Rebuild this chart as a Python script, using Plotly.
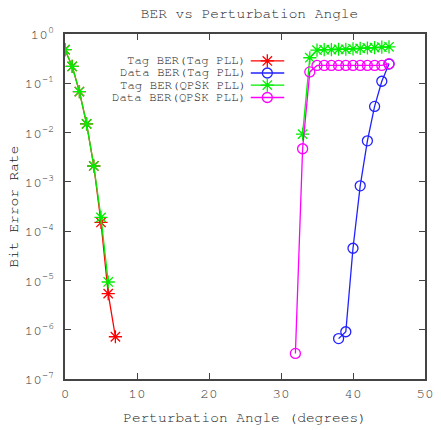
import plotly.graph_objects as go

# Data
tag_tagpll_x = [0, 1, 2, 3, 4, 5, 6, 7]
tag_tagpll_y = [0.48, 0.22, 0.068, 0.015, 0.0021, 1.5e-4, 5.4e-6, 7.2e-7]

data_tagpll_x = [38, 39, 40, 41, 42, 43, 44, 45]
data_tagpll_y = [6.6e-7, 9.1e-7, 4.5e-5, 8.3e-4, 0.0068, 0.034, 0.11, 0.245]

tag_qpsk_x = [0, 1, 2, 3, 4, 5, 6, None, 33, 34, 35, 36, 37, 38, 39, 40, 41, 42, 43, 44, 45]
tag_qpsk_y = [0.48, 0.22, 0.068, 0.015, 0.0021, 1.9e-4, 9.3e-6, None,
              0.0093, 0.33, 0.47, 0.48, 0.48, 0.49, 0.49, 0.50, 0.51, 0.52, 0.53, 0.54, 0.55]

data_qpsk_x = [32, 33, 34, 35, 36, 37, 38, 39, 40, 41, 42, 43, 44, 45]
data_qpsk_y = [3.3e-7, 0.0047, 0.17, 0.23, 0.23, 0.23, 0.23, 0.23, 0.23, 0.23, 0.23, 0.23, 0.23, 0.25]

names = ["Tag BER(Tag PLL)", "Data BER(Tag PLL)", "Tag BER(QPSK PLL)", "Data BER(QPSK PLL)"]
colors = ["#ff0000", "#2222ff", "#00ee00", "#ff00ff"]
symbols = ["asterisk-open", "circle-open", "asterisk-open", "circle-open"]
sizes = [11, 10, 11, 10]

ytick_vals = [1e-7, 1e-6, 1e-5, 1e-4, 1e-3, 1e-2, 1e-1, 1]
ytick_text = ["10<sup>-7</sup>", "10<sup>-6</sup>", "10<sup>-5</sup>", "10<sup>-4</sup>",
              "10<sup>-3</sup>", "10<sup>-2</sup>", "10<sup>-1</sup>", "10<sup>0</sup>"]
xtick_vals = [0, 10, 20, 30, 40, 50]

FONT = "FreeMono, Courier New, monospace"
AXC = "#444444"
TXC = "#3a3a3a"
TTC = "#222222"

series = [(tag_tagpll_x, tag_tagpll_y), (data_tagpll_x, data_tagpll_y),
          (tag_qpsk_x, tag_qpsk_y), (data_qpsk_x, data_qpsk_y)]

fig = go.Figure()
for i, (xs, ys) in enumerate(series):
    fig.add_trace(go.Scatter(
        x=xs, y=ys, mode="lines+markers", name=names[i], showlegend=False,
        line=dict(color=colors[i], width=1.3),
        marker=dict(symbol=symbols[i], size=sizes[i], color=colors[i],
                    line=dict(color=colors[i], width=1.3)),
        connectgaps=False,
    ))

# manual gnuplot-style legend (samples on an overlay axis spanning the plot area)
leg_rows = [0.922, 0.887, 0.852, 0.816]
for i in range(4):
    fig.add_trace(go.Scatter(
        x=[0.516, 0.609], y=[leg_rows[i], leg_rows[i]], mode="lines",
        line=dict(color=colors[i], width=1.3), xaxis="x2", yaxis="y2",
        showlegend=False, hoverinfo="skip"))
    fig.add_trace(go.Scatter(
        x=[0.562], y=[leg_rows[i]], mode="markers",
        marker=dict(symbol=symbols[i], size=sizes[i], color=colors[i],
                    line=dict(color=colors[i], width=1.3)),
        xaxis="x2", yaxis="y2", showlegend=False, hoverinfo="skip"))
    fig.add_annotation(x=0.507, y=leg_rows[i], xref="x2", yref="y2",
                       text=names[i], showarrow=False, xanchor="right", yanchor="middle",
                       font=dict(family=FONT, size=12.4, color=TTC))

fig.update_layout(
    width=441, height=430,
    margin=dict(l=65, r=7, t=34, b=48),
    paper_bgcolor="white", plot_bgcolor="white",
    title=dict(text="BER vs Perturbation Angle", x=(65 + 434) / 2 / 441, xanchor="center",
               y=1 - 13 / 430, yanchor="middle",
               font=dict(family=FONT, size=14.5, color=TTC)),
    font=dict(family=FONT, size=14.5, color=TXC),
    xaxis=dict(range=[0, 50], tickvals=xtick_vals, ticks="inside", ticklen=6,
               tickcolor=AXC, tickwidth=1, showline=True, linecolor=AXC, linewidth=2,
               mirror="ticks", showgrid=False, zeroline=False,
               title=dict(text="Perturbation Angle (degrees)", standoff=11,
                          font=dict(family=FONT, size=14.5, color=TTC)),
               tickfont=dict(family=FONT, size=14.5, color=TXC)),
    yaxis=dict(type="log", range=[-7, 0], tickvals=ytick_vals, ticktext=ytick_text,
               ticks="inside", ticklen=6, tickcolor=AXC, tickwidth=1,
               showline=True, linecolor=AXC, linewidth=2, mirror="ticks",
               showgrid=False, zeroline=False, ticklabelstandoff=6,
               title=dict(text="Bit Error Rate", standoff=2,
                          font=dict(family=FONT, size=14.5, color=TTC)),
               tickfont=dict(family=FONT, size=14.5, color=TXC)),
    xaxis2=dict(range=[0, 1], overlaying="x", visible=False, fixedrange=True),
    yaxis2=dict(range=[0, 1], overlaying="y", visible=False, fixedrange=True),
)

fig.write_html("out.html")
